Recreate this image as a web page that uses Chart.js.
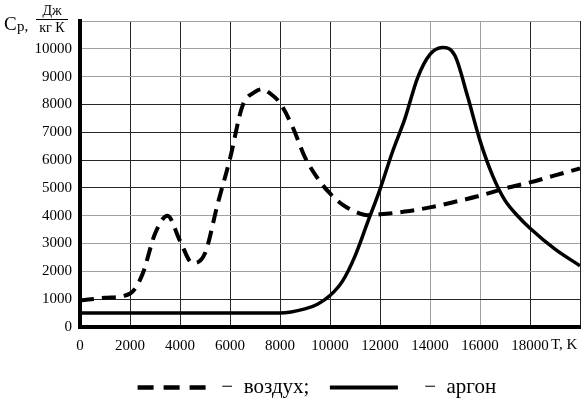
<!DOCTYPE html>
<html>
<head>
<meta charset="utf-8">
<script src="https://cdn.jsdelivr.net/npm/chart.js@4.4.1/dist/chart.umd.min.js"></script>
<style>
  html, body { margin: 0; padding: 0; background: #fff; overflow: hidden; }
  #wrap { width: 581px; height: 402px; }
  canvas { display: block; }
</style>
</head>
<body>
<div id="wrap"><canvas id="cp"></canvas></div>
<script>
// temperature grid for each curve, K
const airT = [0, 1000, 2000, 2500, 3000, 3500, 4000, 4500, 5000, 5500, 6000, 6500, 7000, 7300, 7600, 8000, 8500, 9000, 9500, 10000, 10500, 11000, 11500, 12000, 13000, 14000, 15000, 16000, 17000, 18000, 19000, 20000];
const airCp = [950, 1050, 1200, 1900, 3350, 4000, 3100, 2300, 2650, 4400, 6050, 7950, 8450, 8550, 8400, 8050, 7200, 6100, 5350, 4800, 4400, 4150, 4020, 4050, 4150, 4300, 4500, 4720, 4980, 5200, 5450, 5700];

const argonT = [0, 2000, 4000, 6000, 8000, 9000, 9500, 10000, 10500, 11000, 11500, 12000, 12500, 13000, 13500, 14000, 14500, 15000, 15500, 16000, 16500, 17000, 17500, 18000, 19000, 20000];
const argonCp = [500, 500, 500, 500, 500, 650, 820, 1130, 1650, 2550, 3750, 4950, 6300, 7500, 8950, 9800, 10050, 9750, 8300, 6700, 5450, 4550, 4000, 3550, 2800, 2200];

const seriesNames = ["воздух", "аргон"];
const dottedY = [2000, 3000, 4000, 9000, 10000, 11000];
const dottedX = [14000, 16000];

const serif = "'Liberation Serif', 'Times New Roman', serif";

const toPoints = (xs, ys) => xs.map((x, i) => ({ x: x, y: ys[i] }));

// axis captions: Cp, Дж/(кг К) and T, K
const captions = {
  id: "captions",
  afterDraw(chart) {
    const ctx = chart.ctx;
    const xs = chart.scales.x;
    ctx.save();
    ctx.fillStyle = "#000";
    ctx.strokeStyle = "#000";
    ctx.textBaseline = "middle";
    ctx.textAlign = "left";
    ctx.font = "19px " + serif;
    ctx.fillText("C", 4, 25);
    ctx.font = "15px " + serif;
    ctx.fillText("p,", 17, 27);
    ctx.textAlign = "center";
    ctx.font = "14px " + serif;
    ctx.fillText("Дж", 52, 11);
    ctx.fillText("кг К", 52, 28);
    ctx.lineWidth = 1;
    ctx.beginPath();
    ctx.moveTo(36, 19.5);
    ctx.lineTo(68, 19.5);
    ctx.stroke();
    ctx.textAlign = "left";
    ctx.font = "15px " + serif;
    ctx.fillText("T, K", xs.getPixelForValue(18000) + 21, xs.top + 18);
    ctx.restore();
  },
};

const config = {
  type: "line",
  data: {
    datasets: [
      {
        label: seriesNames[0],
        data: toPoints(airT, airCp),
        borderColor: "#000",
        borderWidth: 4,
        borderDash: [14, 8],
        pointRadius: 0,
        cubicInterpolationMode: "monotone",
      },
      {
        label: seriesNames[1],
        data: toPoints(argonT, argonCp),
        borderColor: "#000",
        borderWidth: 3.5,
        pointRadius: 0,
        cubicInterpolationMode: "monotone",
      },
    ],
  },
  options: {
    responsive: true,
    maintainAspectRatio: false,
    animation: false,
    layout: { padding: { top: 21, right: 1, left: 0, bottom: -6 } },
    plugins: {
      tooltip: { enabled: false },
      legend: {
        position: "bottom",
        fullSize: false,
        labels: {
          color: "#000",
          font: { family: serif, size: 21 },
          usePointStyle: true,
          pointStyleWidth: 68,
          padding: 10,
          generateLabels: () => [
            { text: " −  " + seriesNames[0] + ";  ", pointStyle: "line", strokeStyle: "#000", fillStyle: "#000", lineWidth: 4.5, lineDash: [16, 10], fontColor: "#000", datasetIndex: 0 },
            { text: "   −  " + seriesNames[1] + "     ", pointStyle: "line", strokeStyle: "#000", fillStyle: "#000", lineWidth: 4, lineDash: [], fontColor: "#000", datasetIndex: 1 },
          ],
        },
      },
    },
    scales: {
      x: {
        type: "linear",
        min: 0,
        max: 20000,
        afterFit: (s) => { s.height = 40; s.paddingLeft = 0; s.paddingRight = 0; },
        ticks: {
          stepSize: 2000,
          padding: 10,
          color: "#000",
          maxRotation: 0,
          font: { family: serif, size: 15 },
          callback: (v) => (v === 20000 ? "" : String(v)),
        },
        grid: {
          drawTicks: false,
          color: (c) => (dottedX.includes(c.tick.value) ? "#a0a0a0" : "#262626"),
          lineWidth: 1,
        },
        border: { color: "#000", width: 4 },
      },
      y: {
        min: 0,
        max: 11000,
        afterFit: (s) => { s.width = 80; },
        ticks: {
          stepSize: 1000,
          padding: 8,
          color: "#000",
          font: { family: serif, size: 15 },
          callback: (v) => (v === 11000 ? "" : String(v)),
        },
        grid: {
          drawTicks: false,
          color: (c) => (dottedY.includes(c.tick.value) ? "#a0a0a0" : "#262626"),
          lineWidth: 1,
        },
        border: { color: "#000", width: 4 },
      },
    },
  },
  plugins: [captions],
};

const cpChart = new Chart(document.getElementById("cp"), config);
</script>
</body>
</html>
